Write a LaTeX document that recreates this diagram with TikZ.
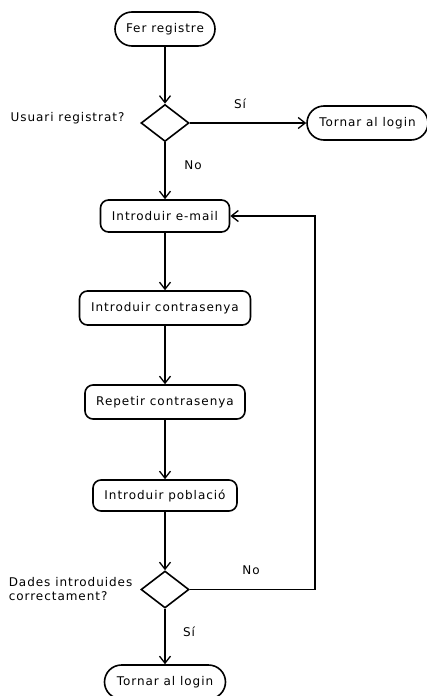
\documentclass[tikz,border=0pt]{standalone}
\usepackage{fontspec}
\setmainfont{DejaVu Sans}[LetterSpace=8]
\usetikzlibrary{shapes.misc,shapes.geometric,arrows.meta}
\begin{document}
\begin{tikzpicture}[x=1pt,y=-1pt,
  font=\fontsize{12}{14.5}\selectfont,
  line width=1.6pt,
  flow/.style={-{Straight Barb[length=7pt,width=11pt,line width=1.3pt]}},
  terminal/.style={draw,rounded rectangle,minimum height=34pt,inner sep=0pt},
  action/.style={draw,rounded corners=8pt,minimum height=33pt,inner sep=0pt},
  decision/.style={draw,diamond,minimum width=48pt,minimum height=37pt,inner sep=0pt},
  lbl/.style={inner sep=0pt}]
\useasboundingbox (0,0) rectangle (426,696);

% nodes
\node[terminal,minimum width=100pt] (start) at (165,29) {Fer registre};
\node[decision] (q1) at (165,123) {};
\node[terminal,minimum width=121pt] (login1) at (367.5,123) {Tornar al login};
\node[action,minimum width=129pt,minimum height=32pt] (email) at (165,216) {Introduir e-mail};
\node[action,minimum width=171pt,minimum height=34pt] (pass) at (165,308) {Introduir contrasenya};
\node[action,minimum width=160pt,minimum height=34pt] (rpass) at (165,402) {Repetir contrasenya};
\node[action,minimum width=144pt,minimum height=31pt] (town) at (165,495.5) {Introduir població};
\node[decision] (q2) at (165,589.5) {};
\node[terminal,minimum width=121pt] (login2) at (165,682) {Tornar al login};
\coordinate (loop) at (315,589.5);

% labels
\node[lbl] (lq1) at (67.5,118) {Usuari registrat?};
\node[lbl] (ls1) at (240,104) {Sí};
\node[lbl] (ln1) at (193,165) {No};
\node[lbl,anchor=west,align=left] (lq2) at (8,589) {Dades introduides\\correctament?};
\node[lbl] (ln2) at (251,570) {No};
\node[lbl] (ls2) at (189,632) {Sí};

% connectors
\draw[flow] (start) -- (q1.north);
\draw[flow] (q1.east) -- (login1.west);
\draw[flow] (q1.south) -- (email.north);
\draw[flow] (email) -- (pass);
\draw[flow] (pass) -- (rpass);
\draw[flow] (rpass) -- (town);
\draw[flow] (town.south) -- (q2.north);
\draw[flow] (q2.south) -- (login2.north);
\draw[flow] (q2.east) -- (loop) |- (email.east);
\end{tikzpicture}
\end{document}
